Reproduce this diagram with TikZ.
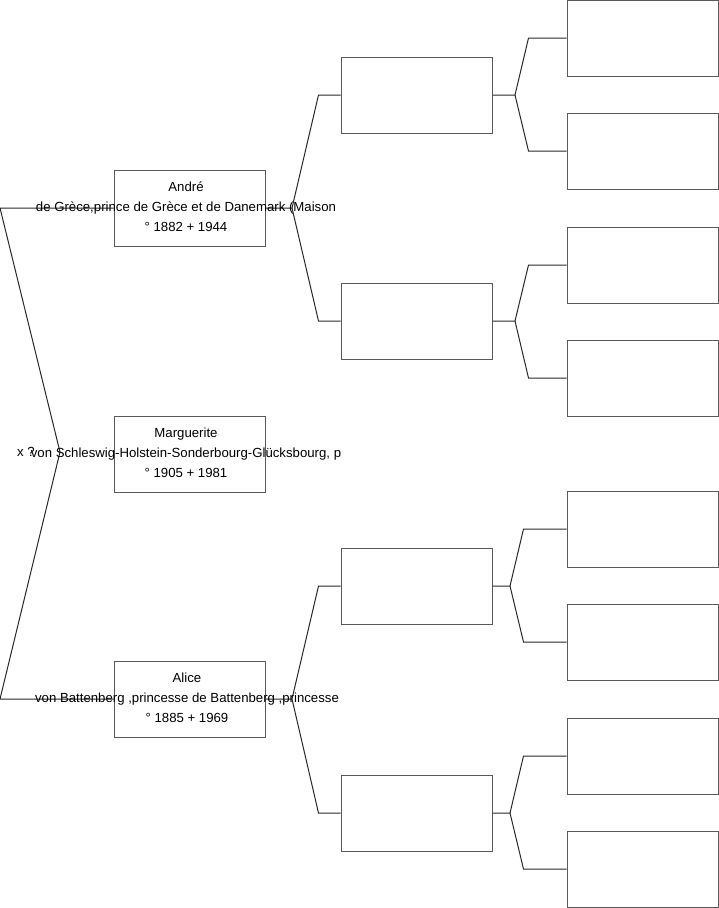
\documentclass[tikz,border=0pt]{standalone}
\usepackage{fontspec}
\setsansfont{Liberation Sans}
\usetikzlibrary{positioning,calc}
\definecolor{boxgray}{RGB}{90,90,90}
\definecolor{linegray}{RGB}{40,40,40}

\begin{document}
\begin{tikzpicture}[
  x=1pt, y=-1pt,
  person/.style={rectangle, draw=boxgray, line width=1pt, fill=white,
    minimum width=151pt, minimum height=76pt, inner sep=0pt},
  info/.style={font=\sffamily\fontsize{13.2}{20}\selectfont, align=center,
    inner sep=0pt},
  link/.style={draw=linegray, line width=1pt}
]
\useasboundingbox (0,0) rectangle (719,908);

% generation 1
\node[person] (andre) at (189.5,208) {};
\node[person] (marg)  at (189.5,454) {};
\node[person] (alice) at (189.5,699) {};

% generation 2
\node[person] (P1) at (416.5,95)  {};
\node[person] (P2) at (416.5,321) {};
\node[person] (P3) at (416.5,586) {};
\node[person] (P4) at (416.5,813) {};

% generation 3
\node[person] (G1) at (642.5,38)  {};
\node[person] (G2) at (642.5,151) {};
\node[person] (G3) at (642.5,265) {};
\node[person] (G4) at (642.5,378) {};
\node[person] (G5) at (642.5,529) {};
\node[person] (G6) at (642.5,642) {};
\node[person] (G7) at (642.5,756) {};
\node[person] (G8) at (642.5,869) {};

% marriage
\coordinate (mtop) at (0,208);
\coordinate (mx)   at (60,452);
\coordinate (mbot) at (0,699);
\draw[link] (andre.west) -- (mtop) -- (mx) -- (mbot) -- (alice.west);
\node[info] (mtxt) at (26,452) {x ?};

% parents of andre and alice
\coordinate (fa) at (292,208);
\draw[link] (andre.east) -- (fa) -- ([xshift=-22pt]P1.west) -- (P1.west);
\draw[link] (fa) -- ([xshift=-22pt]P2.west) -- (P2.west);
\coordinate (fb) at (292,699);
\draw[link] (alice.east) -- (fb) -- ([xshift=-22pt]P3.west) -- (P3.west);
\draw[link] (fb) -- ([xshift=-22pt]P4.west) -- (P4.west);

% grandparents
\coordinate (f1) at (515,95);
\draw[link] (P1.east) -- (f1) -- ([xshift=-38pt]G1.west) -- (G1.west);
\draw[link] (f1) -- ([xshift=-38pt]G2.west) -- (G2.west);
\coordinate (f2) at (515,321);
\draw[link] (P2.east) -- (f2) -- ([xshift=-38pt]G3.west) -- (G3.west);
\draw[link] (f2) -- ([xshift=-38pt]G4.west) -- (G4.west);
\coordinate (f3) at (510,586);
\draw[link] (P3.east) -- (f3) -- ([xshift=-43pt]G5.west) -- (G5.west);
\draw[link] (f3) -- ([xshift=-43pt]G6.west) -- (G6.west);
\coordinate (f4) at (510,813);
\draw[link] (P4.east) -- (f4) -- ([xshift=-43pt]G7.west) -- (G7.west);
\draw[link] (f4) -- ([xshift=-43pt]G8.west) -- (G8.west);

% texts
\node[info] (andre-txt) at (186,207) {André\\de Grèce,prince de Grèce et de Danemark (Maison\\° 1882 + 1944};
\node[info] (marg-txt)  at (186,453) {Marguerite\\von Schleswig-Holstein-Sonderbourg-Glücksbourg, p\\° 1905 + 1981};
\node[info] (alice-txt) at (187,698) {Alice\\von Battenberg ,princesse de Battenberg ,princesse\\° 1885 + 1969};
\end{tikzpicture}
\end{document}
